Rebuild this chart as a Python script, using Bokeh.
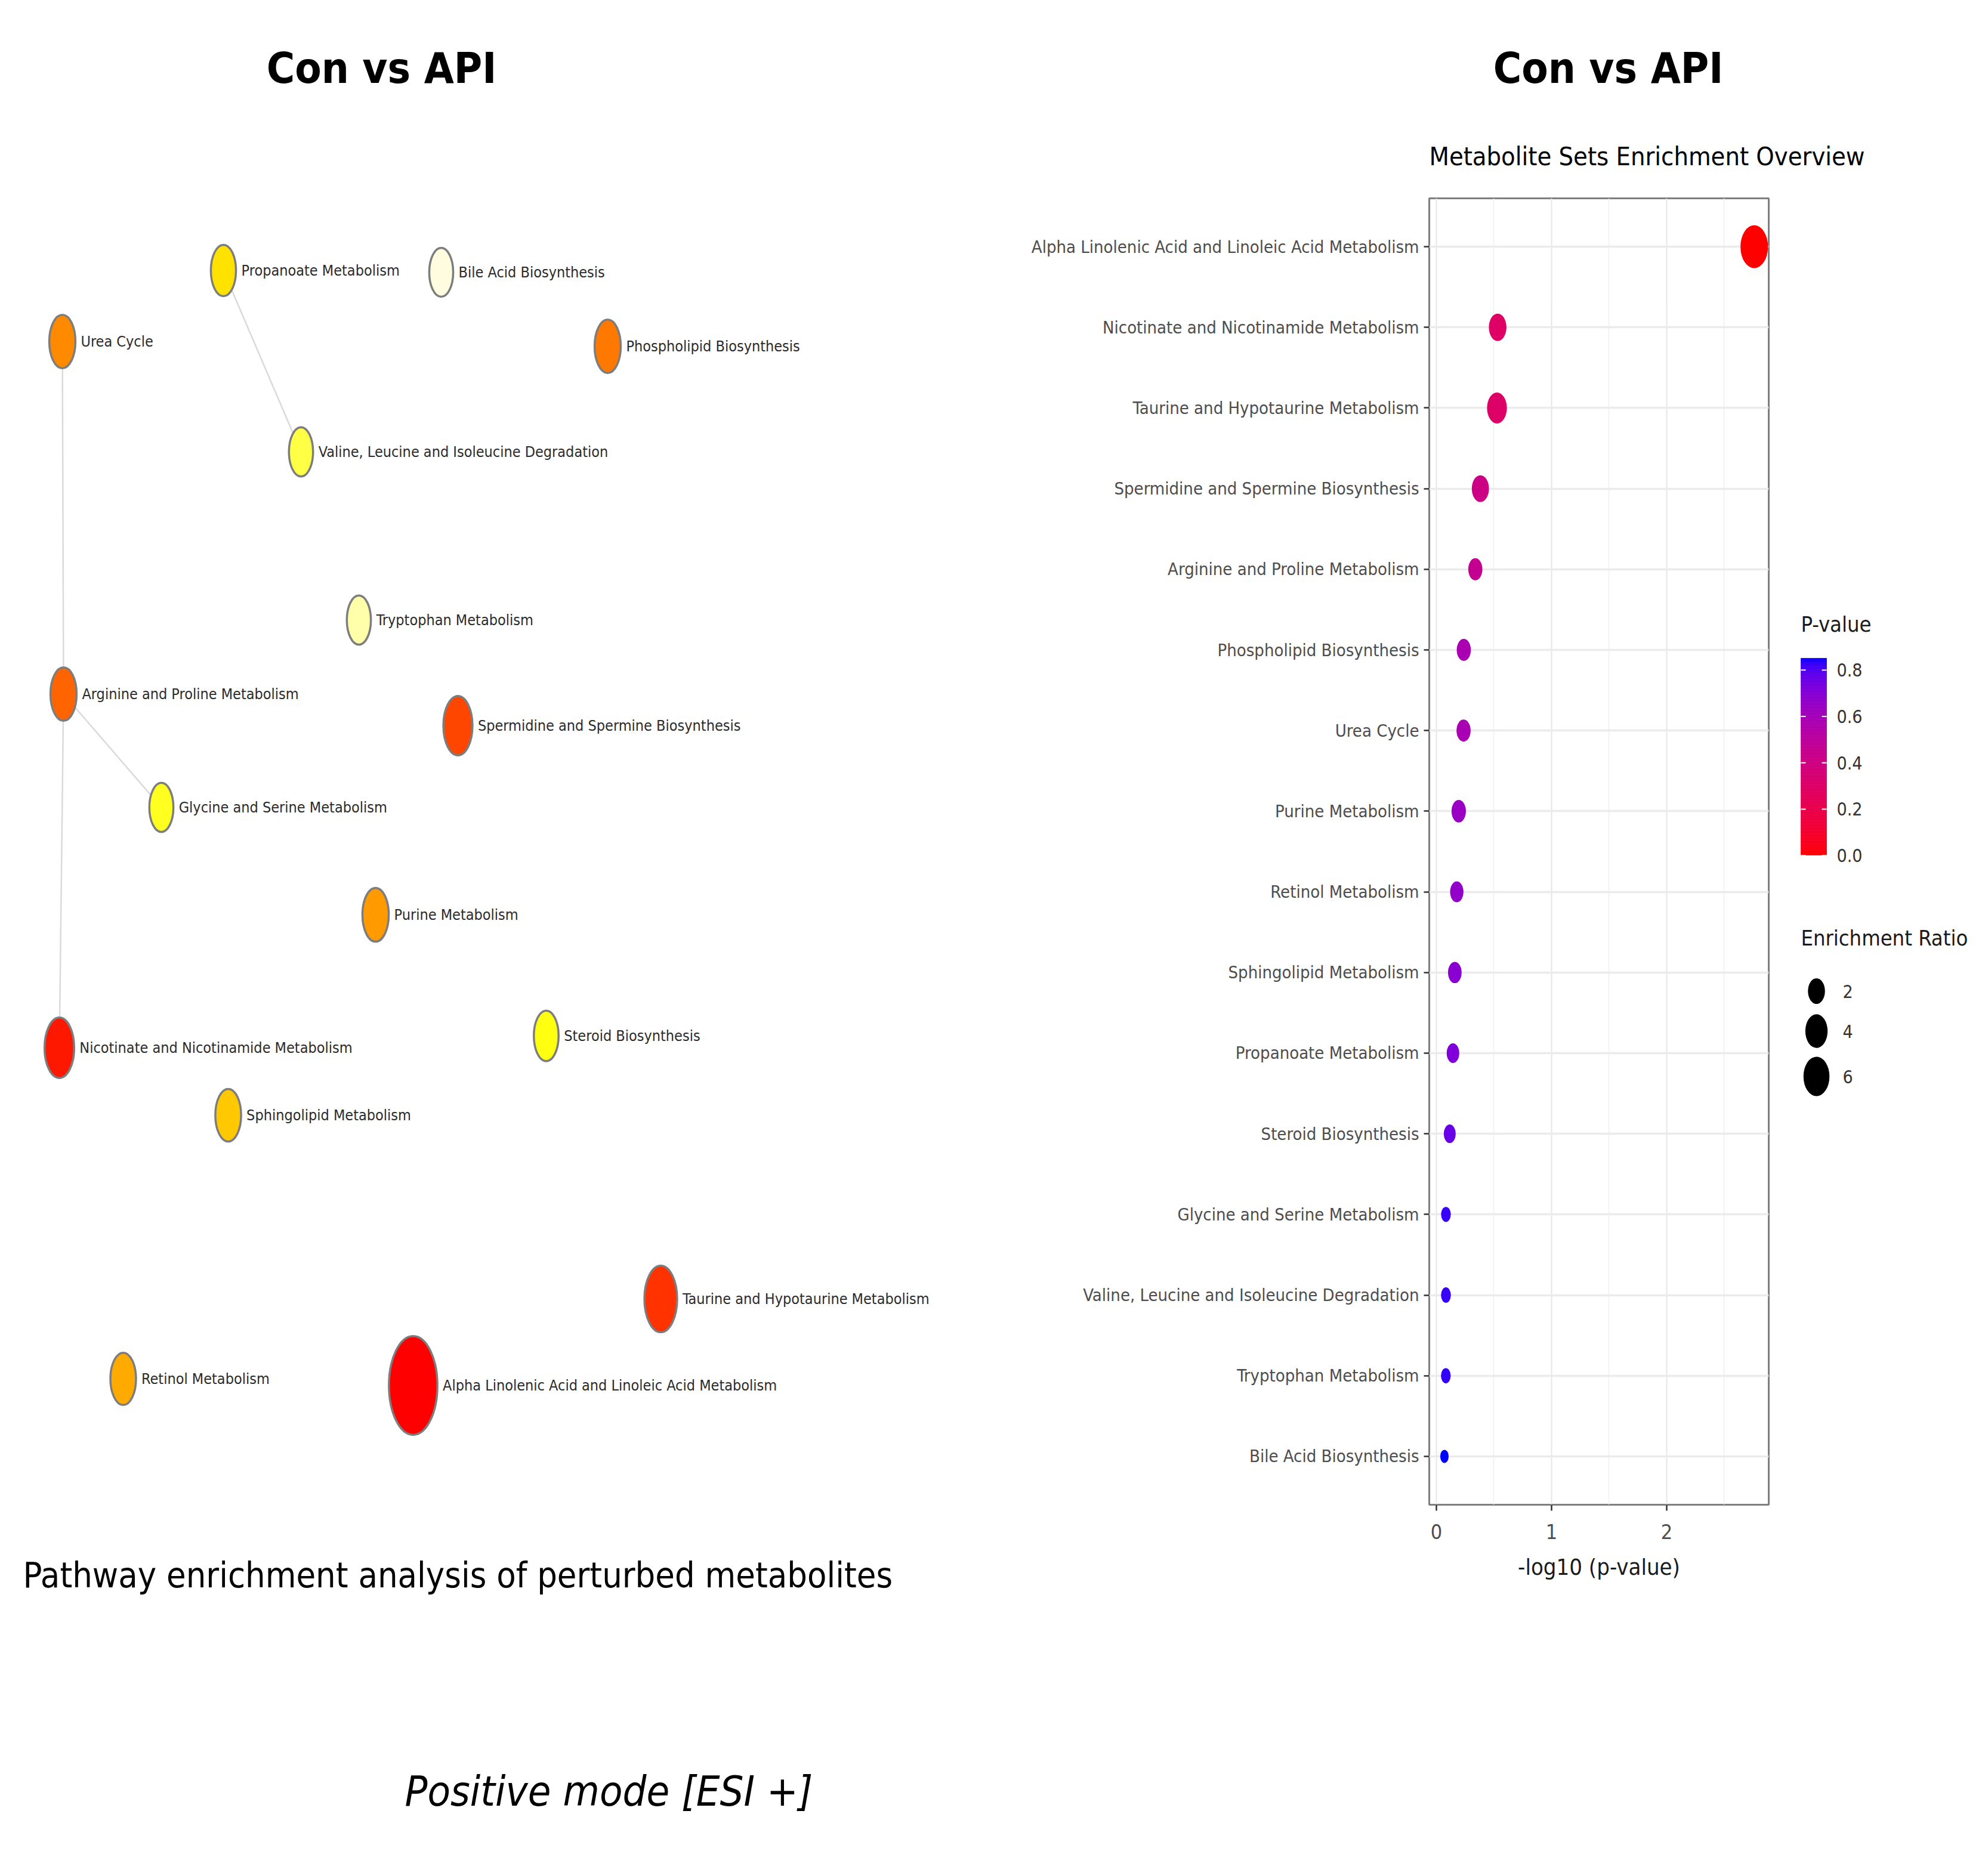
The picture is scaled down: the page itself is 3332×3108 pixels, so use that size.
import math
from bokeh.plotting import figure
from bokeh.models import ColumnDataSource, Range1d, FixedTicker, LinearColorMapper
from bokeh.layouts import row, column
from bokeh.core.properties import value
from bokeh.embed import file_html
from bokeh.resources import INLINE

FONT = "DejaVu Sans Condensed, Liberation Sans Narrow, sans-serif"

# ------------------------------------------------------------------ data
# dot plot (top to bottom)
pathways = [
    "Alpha Linolenic Acid and Linoleic Acid Metabolism",
    "Nicotinate and Nicotinamide Metabolism",
    "Taurine and Hypotaurine Metabolism",
    "Spermidine and Spermine Biosynthesis",
    "Arginine and Proline Metabolism",
    "Phospholipid Biosynthesis",
    "Urea Cycle",
    "Purine Metabolism",
    "Retinol Metabolism",
    "Sphingolipid Metabolism",
    "Propanoate Metabolism",
    "Steroid Biosynthesis",
    "Glycine and Serine Metabolism",
    "Valine, Leucine and Isoleucine Degradation",
    "Tryptophan Metabolism",
    "Bile Acid Biosynthesis",
]
neg_log10_p = [2.76, 0.532, 0.526, 0.382, 0.338, 0.238, 0.236, 0.194, 0.177,
               0.160, 0.144, 0.116, 0.083, 0.083, 0.082, 0.070]
enrichment_ratio = [7.5, 2.35, 3.2, 2.2, 1.4, 1.4, 1.4, 1.45, 1.25,
                    1.3, 1.12, 1.02, 0.83, 0.84, 0.83, 0.80]

# network layout (layout coordinates)
net_nodes = [
    "Propanoate Metabolism", "Bile Acid Biosynthesis", "Urea Cycle",
    "Phospholipid Biosynthesis", "Valine, Leucine and Isoleucine Degradation",
    "Tryptophan Metabolism", "Arginine and Proline Metabolism",
    "Spermidine and Spermine Biosynthesis", "Glycine and Serine Metabolism",
    "Purine Metabolism", "Nicotinate and Nicotinamide Metabolism",
    "Steroid Biosynthesis", "Sphingolipid Metabolism",
    "Taurine and Hypotaurine Metabolism", "Retinol Metabolism",
    "Alpha Linolenic Acid and Linoleic Acid Metabolism",
]
net_x = [374, 739, 104, 1018, 504, 601, 106, 767, 270, 629, 99, 915, 382, 1107, 206, 692]
net_y = [453, 456, 572, 580, 757, 1039, 1163, 1216, 1353, 1533, 1756, 1736, 1869, 2177, 2311, 2322]
edge_from = ["Propanoate Metabolism", "Urea Cycle", "Arginine and Proline Metabolism",
             "Arginine and Proline Metabolism"]
edge_to = ["Valine, Leucine and Isoleucine Degradation", "Arginine and Proline Metabolism",
           "Nicotinate and Nicotinamide Metabolism", "Glycine and Serine Metabolism"]

size_breaks = [2, 4, 6]
pvalue_ticks = [0.0, 0.2, 0.4, 0.6, 0.8]
x_ticks = [0, 1, 2]

# ------------------------------------------------------------------ styles
node_colors = {
    "Propanoate Metabolism": "#FFE200",
    "Bile Acid Biosynthesis": "#FFFCE0",
    "Urea Cycle": "#FF8A00",
    "Phospholipid Biosynthesis": "#FF7800",
    "Valine, Leucine and Isoleucine Degradation": "#FFFF45",
    "Tryptophan Metabolism": "#FFFFAA",
    "Arginine and Proline Metabolism": "#FF6400",
    "Spermidine and Spermine Biosynthesis": "#FF4600",
    "Glycine and Serine Metabolism": "#FFFF20",
    "Purine Metabolism": "#FF9A00",
    "Nicotinate and Nicotinamide Metabolism": "#FF1800",
    "Steroid Biosynthesis": "#FFFF10",
    "Sphingolipid Metabolism": "#FFC800",
    "Taurine and Hypotaurine Metabolism": "#FF3200",
    "Retinol Metabolism": "#FFAA00",
    "Alpha Linolenic Acid and Linoleic Acid Metabolism": "#FF0000",
}


def _lin(c):
    c = c / 255.0
    return c / 12.92 if c <= 0.04045 else ((c + 0.055) / 1.055) ** 2.4


def _to_lab(hexc):
    r, g, b = (_lin(int(hexc[i:i + 2], 16)) for i in (1, 3, 5))
    X = 0.4124564 * r + 0.3575761 * g + 0.1804375 * b
    Y = 0.2126729 * r + 0.7151522 * g + 0.0721750 * b
    Z = 0.0193339 * r + 0.1191920 * g + 0.9503041 * b
    f = lambda t: t ** (1 / 3) if t > 0.008856 else 7.787 * t + 16 / 116
    fx, fy, fz = f(X / 0.95047), f(Y), f(Z / 1.08883)
    return 116 * fy - 16, 500 * (fx - fy), 200 * (fy - fz)


def _from_lab(L, a, b):
    fy = (L + 16) / 116
    fx, fz = fy + a / 500, fy - b / 200
    inv = lambda t: t ** 3 if t ** 3 > 0.008856 else (t - 16 / 116) / 7.787
    X, Y, Z = 0.95047 * inv(fx), inv(fy), 1.08883 * inv(fz)
    rgb = [3.2404542 * X - 1.5371385 * Y - 0.4985314 * Z,
           -0.9692660 * X + 1.8760108 * Y + 0.0415560 * Z,
           0.0556434 * X - 0.2040259 * Y + 1.0572252 * Z]
    out = []
    for c in rgb:
        c = 12.92 * c if c <= 0.0031308 else 1.055 * max(c, 0) ** (1 / 2.4) - 0.055
        out.append(int(round(min(max(c, 0), 1) * 255)))
    return "#%02x%02x%02x" % tuple(out)


lo, hi = _to_lab("#FF0000"), _to_lab("#0000FF")
palette = [_from_lab(*[lo[k] + (hi[k] - lo[k]) * i / 255 for k in range(3)]) for i in range(256)]

er_min, er_max = min(enrichment_ratio), max(enrichment_ratio)


def dot_h(er):
    return 22 + 50 * math.sqrt(max(er - er_min, 0) / (er_max - er_min))


def node_h(er):
    return 72 + 12.5 * er


def free_fig(w, h, xr, yr, **kw):
    f = figure(width=w, height=h, x_range=Range1d(*xr), y_range=Range1d(*yr),
               toolbar_location=None, output_backend="svg",
               x_axis_type=None, y_axis_type=None, **kw)
    f.grid.visible = False
    f.outline_line_color = None
    return f


def put_text(f, x, y, txt, size, align="left", style="normal", color="black", **kw):
    f.text(x=[x], y=[y], text=[txt], text_font=value(FONT), text_font_size=value(size),
           text_font_style=value(style), text_color=value(color), text_align=value(align),
           text_baseline=value("middle"), **kw)


# page geometry (picture coordinates)
X0, Y0 = 0, 0
LW, RW, TOTAL_H, TITLE_H = 1700, 1616, 3092, 320
DOT_W = 1300
FR_L, FR_R, FR_T, FR_B = 2395, 2964, 332, 2522

# ------------------------------------------------------------------ left: network
left = free_fig(LW, TOTAL_H, (X0, X0 + LW), (Y0 + TOTAL_H, Y0), min_border=0)

pos = {n: (x, y) for n, x, y in zip(net_nodes, net_x, net_y)}
er_of = dict(zip(pathways, enrichment_ratio))
left.segment(x0=[pos[a][0] for a in edge_from], y0=[pos[a][1] for a in edge_from],
             x1=[pos[b][0] for b in edge_to], y1=[pos[b][1] for b in edge_to],
             line_color="#dadada", line_width=2.5)

nh = [node_h(er_of[n]) for n in net_nodes]
nw = [0.49 * h for h in nh]
nsrc = ColumnDataSource(dict(x=net_x, y=net_y, w=nw, h=nh, c=[node_colors[n] for n in net_nodes],
                             name=net_nodes, lx=[x + w / 2 + 9 for x, w in zip(net_x, nw)]))
left.ellipse(x="x", y="y", width="w", height="h", width_units="screen", height_units="screen",
             fill_color="c", line_color="#7d7d7d", line_width=3.5, source=nsrc)
left.text(x="lx", y="y", text="name", source=nsrc, text_font=value(FONT),
          text_font_size=value("25px"), text_color=value("#2b2b2b"),
          text_baseline=value("middle"), text_align=value("left"))

put_text(left, 639, 113, "Con vs API", "72px", align="center", style="bold")
put_text(left, 38, 2640, "Pathway enrichment analysis of perturbed metabolites", "59px")
put_text(left, 1020, 3002, "Positive mode [ESI +]", "70px", align="center", style="italic")

# ------------------------------------------------------------------ right: titles
tfig = free_fig(RW, TITLE_H, (X0 + LW, X0 + LW + RW), (Y0 + TITLE_H, Y0), min_border=0)
put_text(tfig, 2695, 113, "Con vs API", "72px", align="center", style="bold")
put_text(tfig, 2395, 261, "Metabolite Sets Enrichment Overview", "43px")

# ------------------------------------------------------------------ right: dot plot
n = len(pathways)
ypos = [n - 1 - i for i in range(n)]
pvals = [10 ** (-v) for v in neg_log10_p]
p_lo, p_hi = min(pvals), max(pvals)
mapper = LinearColorMapper(palette=palette, low=p_lo, high=p_hi)

dot_left = X0 + LW
dot_top = Y0 + TITLE_H
dot_h_px = TOTAL_H - TITLE_H
bt, bb = FR_T - dot_top, dot_top + dot_h_px - FR_B

dot = figure(width=DOT_W, height=dot_h_px, x_range=Range1d(-0.062, 2.886),
             y_range=Range1d(-0.6, n - 1 + 0.6),
             min_border_left=FR_L - dot_left, min_border_right=dot_left + DOT_W - FR_R,
             min_border_top=bt, min_border_bottom=bb,
             toolbar_location=None, output_backend="svg")
dot.outline_line_color = "#7f7f7f"
dot.outline_line_width = 3
dot.xaxis.ticker = FixedTicker(ticks=x_ticks, minor_ticks=[t + 0.5 for t in x_ticks])
dot.yaxis.ticker = FixedTicker(ticks=ypos)
dot.yaxis.major_label_overrides = {yy: name for yy, name in zip(ypos, pathways)}
for ax in (dot.xaxis, dot.yaxis):
    ax.axis_line_color = None
    ax.major_tick_line_color = "#333333"
    ax.major_tick_line_width = 2.5
    ax.major_tick_in = 0
    ax.minor_tick_line_color = None
    ax.major_label_text_font = FONT
    ax.major_label_text_color = "#4d4d4d"
dot.yaxis.major_tick_out = 9
dot.yaxis.major_label_standoff = 8
dot.yaxis.major_label_text_font_size = "29px"
dot.xaxis.major_tick_out = 10
dot.xaxis.major_label_standoff = 22
dot.xaxis.major_label_text_font_size = "34px"
dot.xaxis.axis_label = "-log10 (p-value)"
dot.xaxis.axis_label_text_font = FONT
dot.xaxis.axis_label_text_font_size = "38px"
dot.xaxis.axis_label_text_font_style = "normal"
dot.xaxis.axis_label_text_color = "#1a1a1a"
dot.xaxis.axis_label_standoff = 22
dot.xgrid.grid_line_color = "#e6e6e6"
dot.xgrid.grid_line_width = 2
dot.xgrid.minor_grid_line_color = "#efefef"
dot.xgrid.minor_grid_line_width = 1.5
dot.ygrid.grid_line_color = "#ebebeb"
dot.ygrid.grid_line_width = 3.5

dh = [dot_h(e) for e in enrichment_ratio]
dsrc = ColumnDataSource(dict(x=neg_log10_p, y=ypos, p=pvals, h=dh, w=[0.64 * h for h in dh]))
dot.ellipse(x="x", y="y", width="w", height="h", width_units="screen", height_units="screen",
            fill_color={"field": "p", "transform": mapper}, line_color=None, source=dsrc)

# ------------------------------------------------------------------ right: legends
# frame of this figure is aligned with the dot plot frame
leg_l = dot_left + DOT_W
leg_w = X0 + LW + RW - leg_l
leg = free_fig(leg_w, dot_h_px, (leg_l, leg_l + leg_w), (FR_B, FR_T),
               min_border_left=0, min_border_right=0, min_border_top=bt, min_border_bottom=bb)

# colour bar on its own p-value range
BAR_BOTTOM, BAR_TOP, BAR_L, BAR_R = 1433, 1103, 3018, 3061
ppx = (BAR_BOTTOM - BAR_TOP) / (p_hi - p_lo)
leg.extra_y_ranges = {"pv": Range1d(start=p_lo - (FR_B - BAR_BOTTOM) / ppx,
                                    end=p_lo + (BAR_BOTTOM - FR_T) / ppx)}
NSTEP = 120
dv = (p_hi - p_lo) / NSTEP
gv = [p_lo + dv * (i + 0.5) for i in range(NSTEP)]
gsrc = ColumnDataSource(dict(x=[(BAR_L + BAR_R) / 2] * NSTEP, y=gv, v=gv))
leg.rect(x="x", y="y", width=BAR_R - BAR_L, height=dv, source=gsrc, y_range_name="pv",
         fill_color={"field": "v", "transform": mapper},
         line_color={"field": "v", "transform": mapper}, line_width=0.8)
leg.segment(x0=[BAR_L] * len(pvalue_ticks), x1=[BAR_L + 8] * len(pvalue_ticks),
            y0=pvalue_ticks, y1=pvalue_ticks, y_range_name="pv", line_color="white", line_width=2)
leg.segment(x0=[BAR_R - 8] * len(pvalue_ticks), x1=[BAR_R] * len(pvalue_ticks),
            y0=pvalue_ticks, y1=pvalue_ticks, y_range_name="pv", line_color="white", line_width=2)
leg.text(x=[3078] * len(pvalue_ticks), y=pvalue_ticks, text=["%.1f" % t for t in pvalue_ticks],
         y_range_name="pv", text_font=value(FONT), text_font_size=value("30px"),
         text_color=value("#333333"), text_baseline=value("middle"))
put_text(leg, 3018, 1046, "P-value", "36px", color="#1a1a1a")

LEG_Y = [1661, 1728, 1804]
lh = [dot_h(b) for b in size_breaks]
lsrc = ColumnDataSource(dict(x=[3044] * 3, y=LEG_Y, h=lh, w=[0.66 * h for h in lh],
                             t=[str(b) for b in size_breaks], tx=[3088] * 3))
leg.ellipse(x="x", y="y", width="w", height="h", width_units="screen", height_units="screen",
            fill_color="black", line_color=None, source=lsrc)
leg.text(x="tx", y="y", text="t", source=lsrc, text_font=value(FONT),
         text_font_size=value("30px"), text_color=value("#333333"),
         text_baseline=value("middle"))
put_text(leg, 3018, 1572, "Enrichment Ratio", "36px", color="#1a1a1a")

layout = row(left, column(tfig, row(dot, leg)))
open("out.html", "w").write(file_html(layout, INLINE))
